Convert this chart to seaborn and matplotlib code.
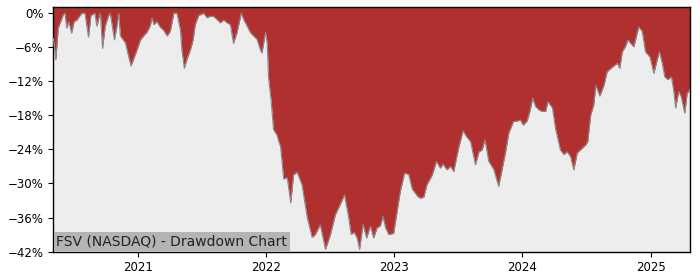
import matplotlib
matplotlib.use("Agg")
import matplotlib.pyplot as plt
import matplotlib.dates as mdates
from matplotlib.ticker import FuncFormatter
import seaborn as sns
import pandas as pd

dates = [
    "2020-05-06", "2020-05-13", "2020-05-20", "2020-06-03", "2020-06-08", "2020-06-13",
    "2020-06-19", "2020-06-27", "2020-07-04", "2020-07-12", "2020-07-26", "2020-08-04",
    "2020-08-14", "2020-08-21", "2020-09-01", "2020-09-07", "2020-09-14", "2020-09-17",
    "2020-09-23", "2020-10-01", "2020-10-10", "2020-10-15", "2020-10-27", "2020-11-03",
    "2020-11-08", "2020-11-13", "2020-11-27", "2020-12-02", "2020-12-13", "2020-12-21",
    "2020-12-30", "2021-01-09", "2021-01-18", "2021-01-28", "2021-02-06", "2021-02-11",
    "2021-02-16", "2021-02-25", "2021-03-07", "2021-03-16", "2021-03-26", "2021-04-04",
    "2021-04-14", "2021-04-23", "2021-05-03", "2021-05-07", "2021-05-14", "2021-05-22",
    "2021-05-31", "2021-06-08", "2021-06-14", "2021-06-24", "2021-07-08", "2021-07-18",
    "2021-07-27", "2021-08-06", "2021-08-15", "2021-08-25", "2021-09-03", "2021-09-13",
    "2021-09-22", "2021-10-01", "2021-10-11", "2021-10-23", "2021-10-30", "2021-11-09",
    "2021-11-18", "2021-11-27", "2021-12-07", "2021-12-17", "2021-12-21", "2021-12-31",
    "2022-01-05", "2022-01-09", "2022-01-16", "2022-01-23", "2022-02-02", "2022-02-07",
    "2022-02-12", "2022-02-21", "2022-03-03", "2022-03-13", "2022-03-21", "2022-03-31",
    "2022-04-14", "2022-04-29", "2022-05-13", "2022-05-22", "2022-06-05", "2022-06-20",
    "2022-07-04", "2022-07-18", "2022-08-01", "2022-08-13", "2022-08-25", "2022-09-01",
    "2022-09-10", "2022-09-18", "2022-09-25", "2022-10-05", "2022-10-15", "2022-10-26",
    "2022-11-04", "2022-11-14", "2022-11-23", "2022-12-01", "2022-12-08", "2022-12-17",
    "2022-12-31", "2023-01-10", "2023-01-19", "2023-01-31", "2023-02-12", "2023-02-22",
    "2023-03-10", "2023-03-17", "2023-03-27", "2023-04-05", "2023-04-20", "2023-05-02",
    "2023-05-13", "2023-05-21", "2023-06-01", "2023-06-11", "2023-06-20", "2023-07-05",
    "2023-07-17", "2023-07-26", "2023-08-07", "2023-08-21", "2023-08-31", "2023-09-09",
    "2023-09-17", "2023-09-28", "2023-10-12", "2023-10-26", "2023-11-05", "2023-11-15",
    "2023-11-24", "2023-12-07", "2023-12-18", "2023-12-27", "2024-01-04", "2024-01-15",
    "2024-01-23", "2024-01-31", "2024-02-08", "2024-02-17", "2024-02-27", "2024-03-08",
    "2024-03-14", "2024-03-27", "2024-04-05", "2024-04-19", "2024-04-29", "2024-05-08",
    "2024-05-18", "2024-05-27", "2024-06-06", "2024-06-20", "2024-06-30", "2024-07-06",
    "2024-07-14", "2024-07-23", "2024-07-29", "2024-08-09", "2024-08-21", "2024-08-30",
    "2024-09-14", "2024-09-28", "2024-10-05", "2024-10-12", "2024-10-21", "2024-10-28",
    "2024-11-05", "2024-11-14", "2024-11-22", "2024-11-28", "2024-12-08", "2024-12-17",
    "2024-12-30", "2025-01-10", "2025-01-20", "2025-01-26", "2025-02-03", "2025-02-10",
    "2025-02-19", "2025-03-01", "2025-03-08", "2025-03-13", "2025-03-22", "2025-03-29",
    "2025-04-08", "2025-04-15", "2025-04-23",
]

drawdown = [
    -4.4, -8.2, -2.6, -0.3, 0.0, -2.6,
    -1.5, -3.5, -1.5, -1.2, 0.0, 0.0,
    -4.2, -0.4, 0.0, -2.3, -0.5, 0.0,
    -6.2, -2.2, -0.5, 0.0, -4.7, -2.2,
    0.0, -4.0, -5.2, -6.5, -9.3, -8.0,
    -6.5, -4.7, -4.0, -3.3, -2.2, -0.8,
    -2.0, -1.5, -2.5, -3.0, -4.0, -3.2,
    0.0, 0.0, -3.0, -6.5, -9.7, -8.0,
    -6.5, -4.7, -2.0, -0.4, 0.0, -0.8,
    -0.5, -0.6, -1.1, -1.7, -1.2, -1.7,
    -2.0, -5.3, -3.4, 0.0, -1.1, -2.3,
    -3.4, -4.0, -4.6, -6.5, -7.0, -3.4,
    -5.3, -11.5, -15.3, -20.5, -21.5, -22.6,
    -23.5, -29.2, -29.0, -33.4, -28.5, -28.0,
    -30.2, -36.0, -39.5, -39.0, -37.3, -41.6,
    -39.0, -35.5, -33.7, -32.0, -36.0, -39.0,
    -38.6, -39.6, -41.6, -37.2, -39.6, -37.5,
    -39.6, -37.8, -37.5, -35.8, -37.8, -39.0,
    -38.8, -34.9, -31.4, -28.2, -28.4, -31.0,
    -32.3, -32.6, -32.4, -30.2, -28.5, -26.1,
    -27.3, -26.6, -27.6, -27.0, -27.9, -23.5,
    -20.7, -21.7, -22.6, -26.7, -24.4, -24.1,
    -22.3, -26.1, -27.5, -30.5, -27.5, -24.4,
    -21.1, -19.1, -19.0, -18.8, -19.7, -19.0,
    -17.3, -15.0, -16.4, -17.0, -17.3, -17.3,
    -15.6, -16.6, -20.3, -24.1, -24.9, -24.4,
    -25.3, -27.6, -24.6, -23.8, -23.2, -22.6,
    -18.0, -16.1, -12.7, -14.6, -12.7, -10.3,
    -9.5, -8.8, -9.7, -6.8, -5.9, -4.7,
    -5.3, -5.9, -3.9, -2.4, -3.2, -6.8,
    -7.7, -10.6, -8.1, -6.8, -8.8, -11.2,
    -11.7, -11.2, -13.8, -16.7, -13.8, -14.7,
    -17.6, -14.1, -13.5,
]

yticks = [0, -6, -12, -18, -24, -30, -36, -42]
title_text = "FSV (NASDAQ) - Drawdown Chart"

df = pd.DataFrame({"date": pd.to_datetime(dates), "dd": drawdown})

sns.set_style("ticks")
plt.rcParams["font.family"] = ["DejaVu Sans"]

fig = plt.figure(figsize=(7, 2.8), dpi=100)
ax = fig.add_axes([0.0762, 0.1015, 0.9095, 0.8725])
ax.set_facecolor("#EDEDED")

ytop = 1.05
ax.fill_between(df["date"], df["dd"], ytop, color="#B03030", linewidth=0, zorder=2)
sns.lineplot(data=df, x="date", y="dd", ax=ax, color="#8A8A8A", linewidth=0.8, zorder=3)

ax.set_ylim(-42, ytop)
ax.set_xlim(pd.Timestamp("2020-05-06"), pd.Timestamp("2025-04-23"))
ax.set_yticks(yticks)
ax.yaxis.set_major_formatter(FuncFormatter(lambda v, p: f"{int(round(v))}%".replace("-", "\u2212")))
ax.xaxis.set_major_locator(mdates.YearLocator())
ax.xaxis.set_major_formatter(mdates.DateFormatter("%Y"))
ax.tick_params(axis="both", labelsize=8.5, length=3.5, width=0.8, colors="black")
ax.set_xlabel("")
ax.set_ylabel("")
for s in ax.spines.values():
    s.set_visible(True)
    s.set_color("black")
    s.set_linewidth(1.0)

ax.annotate(title_text, xy=(0, 0), xycoords="axes fraction", xytext=(2.2, 2.3),
            textcoords="offset points", fontsize=10, color="#222222",
            ha="left", va="bottom", zorder=5,
            bbox=dict(boxstyle="square,pad=0.2", facecolor="#B4B4B4", edgecolor="none"))

fig.savefig("out.png", dpi=100)
